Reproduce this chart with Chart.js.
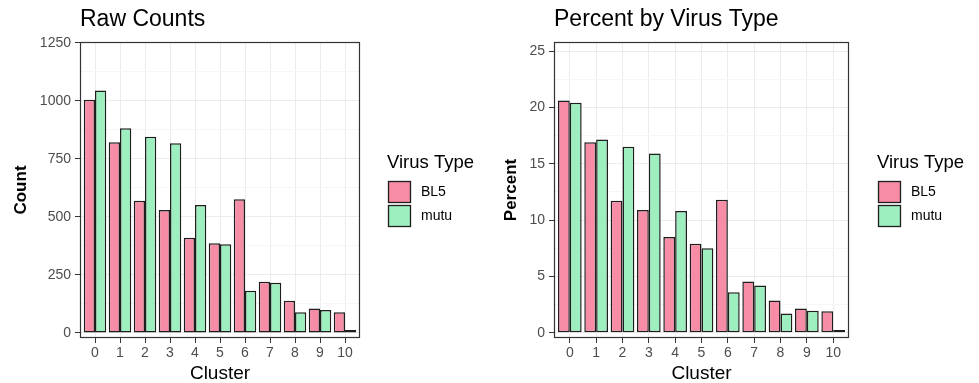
<!DOCTYPE html>
<html>
<head>
<meta charset="utf-8">
<script src="https://cdn.jsdelivr.net/npm/chart.js@4/dist/chart.umd.min.js"></script>
<style>
  html, body { margin: 0; padding: 0; background: #fff; }
  #wrap { position: relative; width: 979px; height: 383px; overflow: hidden; }
  canvas { position: absolute; top: 0; }
</style>
</head>
<body>
<div id="wrap">
  <canvas id="counts" width="490" height="383" style="left:0"></canvas>
  <canvas id="percent" width="489" height="383" style="left:490px"></canvas>
</div>
<script>
// Cells per cluster, split by virus type
const clusters = [0, 1, 2, 3, 4, 5, 6, 7, 8, 9, 10];
const virusTypes = ['BL5', 'mutu'];
const countsBL5  = [1005, 822, 570, 530, 411, 387, 576, 221, 139, 106, 89];
const countsMutu = [1045, 882, 846, 818, 552, 382, 182, 217, 89, 99, 13];
const percentBL5  = [20.6, 16.9, 11.7, 10.9, 8.5, 7.9, 11.8, 4.55, 2.85, 2.15, 1.9];
const percentMutu = [20.4, 17.15, 16.5, 15.9, 10.8, 7.5, 3.6, 4.2, 1.7, 1.95, 0.25];
const countTicks   = [0, 250, 500, 750, 1000, 1250];
const percentTicks = [0, 5, 10, 15, 20, 25];

const FONT = "'Liberation Sans', Arial, Helvetica, sans-serif";
const FILLS = ['#F68CA5', '#9DEFBF'];
const EDGE = '#1e1e1e';

// Panel frame drawn round the plotting area
const panelFrame = {
  id: 'panelFrame',
  afterDatasetsDraw(chart) {
    const { ctx, chartArea: a } = chart;
    ctx.save();
    ctx.strokeStyle = '#333';
    ctx.lineWidth = 1.2;
    ctx.strokeRect(a.left + 0.5, a.top + 0.5, a.right - a.left - 1, a.bottom - a.top - 1);
    ctx.restore();
  }
};

// Legend with a title, keyed squares and labels to the right of the panel
const sideLegend = {
  id: 'sideLegend',
  afterDraw(chart, args, opts) {
    const { ctx } = chart;
    const x = opts.x;
    ctx.save();
    ctx.fillStyle = '#000';
    ctx.font = '18.5px ' + FONT;
    ctx.textBaseline = 'alphabetic';
    ctx.textAlign = 'left';
    ctx.fillText(opts.title, x - 1, 168);
    chart.data.datasets.forEach((ds, i) => {
      const top = 181 + i * 24;
      ctx.fillStyle = ds.backgroundColor;
      ctx.fillRect(x, top, 23, 22);
      ctx.strokeStyle = EDGE;
      ctx.lineWidth = 1.3;
      ctx.strokeRect(x + 0.5, top + 0.5, 22, 21);
      ctx.fillStyle = '#000';
      ctx.font = '14px ' + FONT;
      ctx.textBaseline = 'middle';
      ctx.fillText(ds.label, x + 33, top + 11);
    });
    ctx.restore();
  }
};

function makeChart(id, titleText, yTitle, bl5, mutu, majorTicks, yMin, yMax, axisWidth) {
  const step = majorTicks[1] - majorTicks[0];
  const yGridValues = [];
  majorTicks.forEach(v => {
    yGridValues.push(v);
    if (v + step / 2 <= yMax) yGridValues.push(v + step / 2);
  });
  const isMajor = v => majorTicks.includes(v);

  const series = [bl5, mutu];
  return new Chart(document.getElementById(id), {
    type: 'bar',
    data: {
      datasets: virusTypes.map((name, i) => ({
        label: name,
        data: clusters.map((c, j) => ({ x: c, y: series[i][j] })),
        backgroundColor: FILLS[i],
        borderColor: EDGE,
        borderWidth: 1.5,
        borderSkipped: false,
        categoryPercentage: 0.9,
        barPercentage: 1.0
      }))
    },
    options: {
      responsive: false,
      animation: false,
      layout: { padding: { left: 0, right: 130, top: 0, bottom: 0 } },
      plugins: {
        legend: { display: false },
        tooltip: { enabled: false },
        title: {
          display: true,
          text: titleText,
          align: 'start',
          fullSize: false,
          color: '#000',
          font: { family: FONT, size: 23, weight: 'normal', lineHeight: 1 },
          padding: { top: 8, bottom: 11 }
        },
        sideLegend: { x: 388, title: 'Virus Type' }
      },
      scales: {
        x: {
          type: 'linear',
          offset: false,
          min: -0.6,
          max: 10.6,
          afterBuildTicks: s => { s.ticks = clusters.map(v => ({ value: v })); },
          afterFit: s => { s.height = 45; },
          ticks: {
            autoSkip: false,
            maxRotation: 0,
            color: '#4d4d4d',
            padding: 2,
            font: { family: FONT, size: 14 },
            callback: v => String(v)
          },
          grid: {
            offset: false,
            color: '#ececec',
            tickColor: '#333',
            tickLength: 5,
            lineWidth: 1
          },
          border: { display: false },
          title: {
            display: true,
            text: 'Cluster',
            color: '#000',
            font: { family: FONT, size: 19, lineHeight: 1 },
            padding: { top: 0, bottom: 0 }
          }
        },
        y: {
          min: yMin,
          max: yMax,
          afterBuildTicks: s => { s.ticks = yGridValues.map(v => ({ value: v })); },
          afterFit: s => { s.width = axisWidth; },
          ticks: {
            autoSkip: false,
            color: '#4d4d4d',
            padding: 4,
            font: { family: FONT, size: 14 },
            callback: v => (isMajor(v) ? String(v) : '')
          },
          grid: {
            color: c => (c.tick && isMajor(c.tick.value) ? '#ececec' : '#f6f6f6'),
            tickColor: c => (c.tick && isMajor(c.tick.value) ? '#333' : 'rgba(0,0,0,0)'),
            tickLength: 5,
            lineWidth: 1
          },
          border: { display: false },
          title: {
            display: true,
            text: yTitle,
            color: '#000',
            font: { family: FONT, size: 17, weight: 'bold', lineHeight: 1 },
            padding: { top: 13, bottom: 0 }
          }
        }
      }
    },
    plugins: [panelFrame, sideLegend]
  });
}

makeChart('counts', 'Raw Counts', 'Count', countsBL5, countsMutu, countTicks, -21.6, 1254.3, 80);
makeChart('percent', 'Percent by Virus Type', 'Percent', percentBL5, percentMutu, percentTicks, -0.47, 25.8, 64);
</script>
</body>
</html>
